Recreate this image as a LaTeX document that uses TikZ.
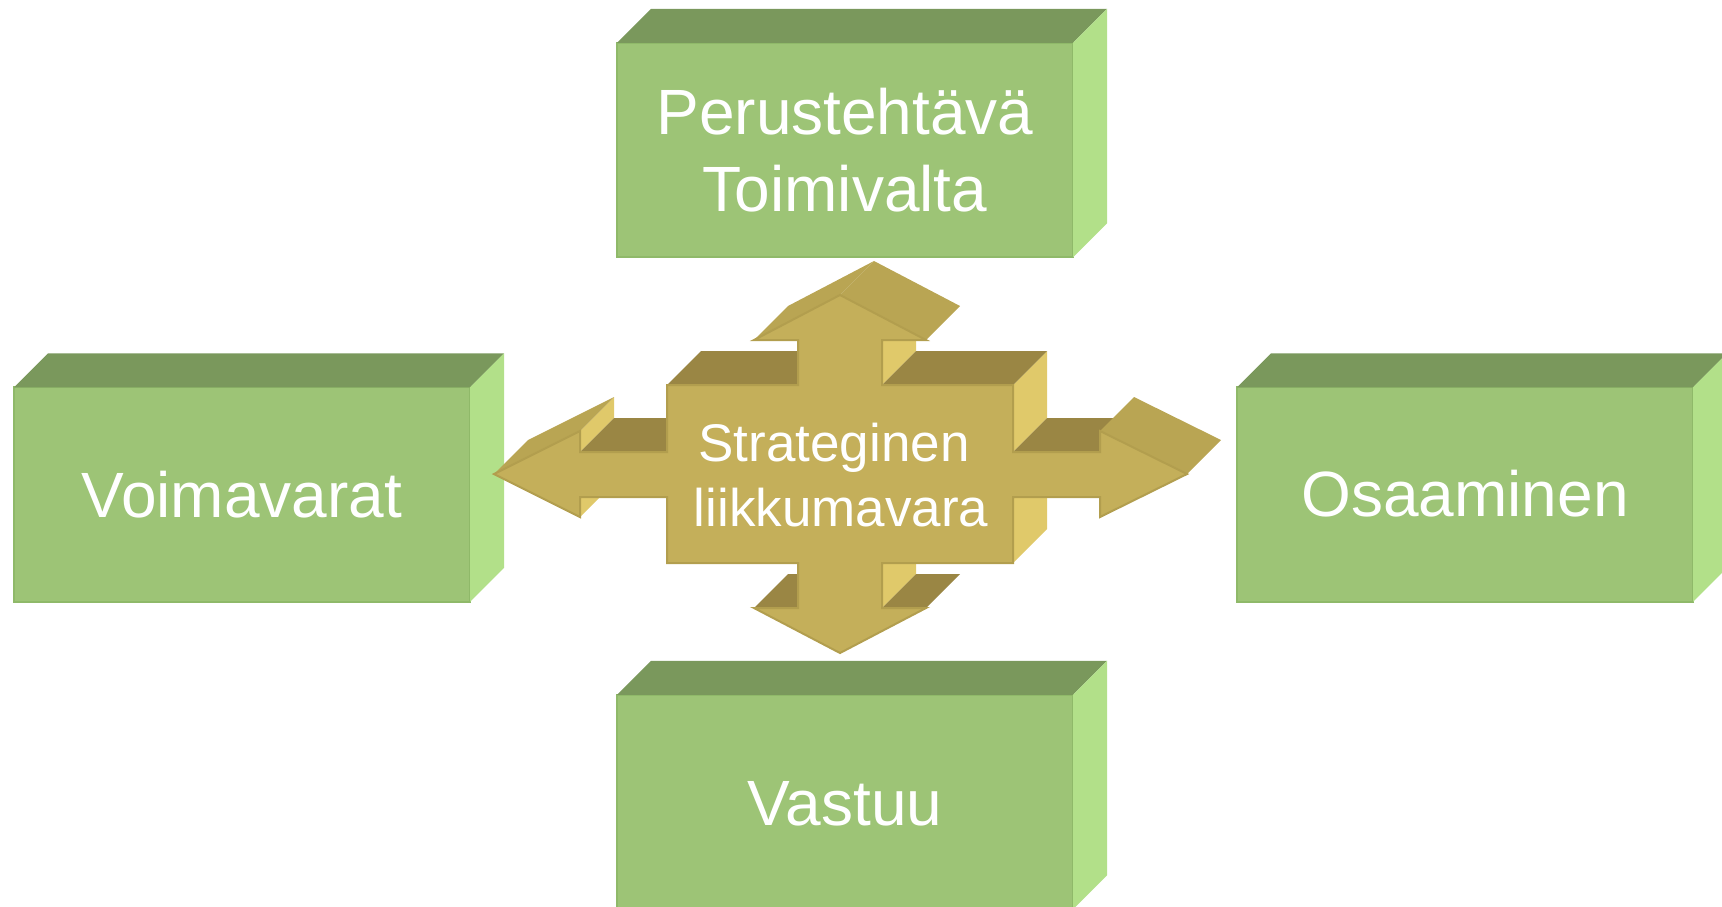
\documentclass[tikz,border=0pt]{standalone}
\usepackage{fontspec}
\setmainfont{Liberation Sans}
\definecolor{gfront}{HTML}{9DC476}
\definecolor{gtop}{HTML}{7A985C}
\definecolor{gside}{HTML}{B2E089}
\definecolor{gedge}{HTML}{8FB969}
\definecolor{afront}{HTML}{C4AF5A}
\definecolor{aslope}{HTML}{B9A553}
\definecolor{atop}{HTML}{9A8644}
\definecolor{aside}{HTML}{E0C96A}
\definecolor{aedge}{HTML}{B29E4E}

% green block: front face as a node, top and right faces extruded up-right
\newcommand\greenblock[2]{%
  \node[blockface] (#1) at #2 {};
  \fill[gtop] (#1.north west) -- (#1.north east)
    -- ([shift={(34,-34)}]#1.north east) -- ([shift={(34,-34)}]#1.north west) -- cycle;
  \fill[gside] (#1.north east) -- ([shift={(34,-34)}]#1.north east)
    -- ([shift={(34,-34)}]#1.south east) -- (#1.south east) -- cycle;
}
% one extruded side face of the cross, between two outline points
\newcommand\crossside[3]{%
  \fill[#3] (#1) -- (#2) -- ([shift={(34,-34)}]#2) -- ([shift={(34,-34)}]#1) -- cycle;
}

\begin{document}
\begin{tikzpicture}[x=0.5pt,y=-0.5pt,
  blockface/.style={minimum width=228pt, minimum height=107.25pt, inner sep=0pt,
    outer sep=0pt, fill=gfront, draw=gedge, line width=1pt},
  blocktext/.style={text=white, font=\fontsize{32}{38}\selectfont, anchor=base, inner sep=0pt},
  hubtext/.style={text=white, font=\fontsize{26.5}{32}\selectfont, anchor=base, inner sep=0pt}]

\useasboundingbox (0,0) rectangle (1722,906);
\clip (0,0) rectangle (1722,906);

% the four blocks
\greenblock{duty}{(845,150)}
\greenblock{resources}{(242,494.5)}
\greenblock{skills}{(1465,494.5)}
\greenblock{responsibility}{(845,802)}

\node[blocktext] (duty-a) at (845,134) {Perustehtävä};
\node[blocktext] (duty-b) at (845,211) {Toimivalta};
\node[blocktext] (resources-t) at (242,517.5) {Voimavarat};
\node[blocktext] (skills-t) at (1465,516.7) {Osaaminen};
\node[blocktext] (responsibility-t) at (845,825) {Vastuu};

% outline of the four-way arrow (front face), clockwise from the top tip
\coordinate (p1) at (840,295);
\coordinate (p2) at (926,340);
\coordinate (p3) at (882,340);
\coordinate (p4) at (882,385);
\coordinate (p5) at (1013,385);
\coordinate (p6) at (1013,452);
\coordinate (p7) at (1100,452);
\coordinate (p8) at (1100,431);
\coordinate (p9) at (1187,474);
\coordinate (p10) at (1100,517);
\coordinate (p11) at (1100,497);
\coordinate (p12) at (1013,497);
\coordinate (p13) at (1013,563);
\coordinate (p14) at (882,563);
\coordinate (p15) at (882,608);
\coordinate (p16) at (926,608);
\coordinate (p17) at (840,653);
\coordinate (p18) at (754,608);
\coordinate (p19) at (798,608);
\coordinate (p20) at (798,563);
\coordinate (p21) at (667,563);
\coordinate (p22) at (667,497);
\coordinate (p23) at (580,497);
\coordinate (p24) at (580,517);
\coordinate (p25) at (494,474);
\coordinate (p26) at (580,431);
\coordinate (p27) at (580,452);
\coordinate (p28) at (667,452);
\coordinate (p29) at (667,385);
\coordinate (p30) at (798,385);
\coordinate (p31) at (798,340);
\coordinate (p32) at (754,340);

% right-facing sides
\crossside{p3}{p4}{aside}
\crossside{p5}{p6}{aside}
\crossside{p12}{p13}{aside}
\crossside{p14}{p15}{aside}
\crossside{p23}{p24}{aside}
\crossside{p26}{p27}{aside}
% upward-facing sides
\crossside{p4}{p5}{atop}
\crossside{p6}{p7}{atop}
\crossside{p15}{p16}{atop}
\crossside{p18}{p19}{atop}
\crossside{p27}{p28}{atop}
\crossside{p29}{p30}{atop}
% sloped sides of the heads
\crossside{p32}{p1}{aslope}
\crossside{p1}{p2}{aslope}
\crossside{p8}{p9}{aslope}
\crossside{p25}{p26}{aslope}

% front face
\filldraw[fill=afront, draw=aedge, line width=1pt, line join=miter]
  (p1) -- (p2) -- (p3) -- (p4) -- (p5) -- (p6) -- (p7) -- (p8) -- (p9) -- (p10)
  -- (p11) -- (p12) -- (p13) -- (p14) -- (p15) -- (p16) -- (p17) -- (p18) -- (p19)
  -- (p20) -- (p21) -- (p22) -- (p23) -- (p24) -- (p25) -- (p26) -- (p27) -- (p28)
  -- (p29) -- (p30) -- (p31) -- (p32) -- cycle;

\node[hubtext] (hub) at (834,461.7) {Strateginen};
\node[hubtext] (hub-b) at (841,526) {liikkumavara};
\end{tikzpicture}
\end{document}
